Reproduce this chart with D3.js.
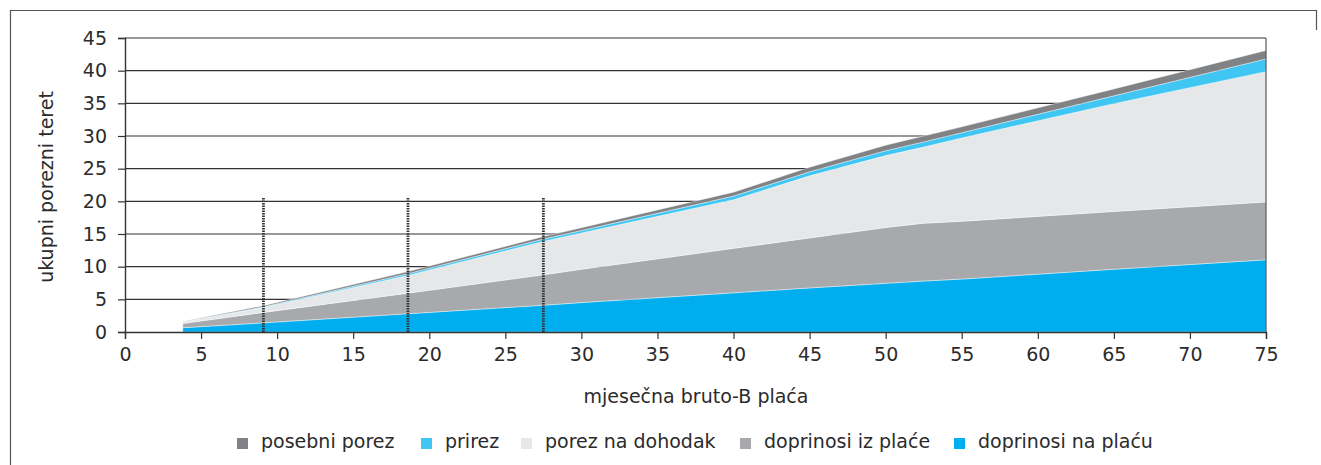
<!DOCTYPE html>
<html>
<head>
<meta charset="utf-8">
<script src="https://cdn.jsdelivr.net/npm/d3@7"></script>
<style>
  body { margin: 0; background: #fff; }
  svg text { font-family: "DejaVu Sans", sans-serif; fill: #2b2b2b; }
</style>
</head>
<body>
<svg id="chart" width="1321" height="465"></svg>
<script>
// monthly gross-B salary (thousand kn)
const placa = [3.8, 9.1, 18.6, 27.5, 30, 40, 45, 50, 52.5, 55, 65, 75];
// layer values (bottom to top)
const doprinosiNaPlacu = [0.65, 1.4, 2.8, 4.1, 4.5, 6.0, 6.75, 7.45, 7.8, 8.1, 9.6, 11.05];
const doprinosiIzPlace = [0.65, 1.6, 3.15, 4.65, 5.1, 6.8, 7.65, 8.55, 8.85, 8.85, 8.85, 8.85];
const porezNaDohodak = [0.22, 0.75, 2.71, 5.12, 5.55, 7.45, 9.5, 11.0, 11.65, 12.75, 16.5, 19.95];
const prirez = [0.04, 0.1, 0.27, 0.35, 0.38, 0.55, 0.62, 0.75, 0.8, 0.8, 1.2, 1.95];
const posebniPorez = [0.06, 0.18, 0.32, 0.38, 0.42, 0.6, 0.68, 0.85, 0.9, 0.9, 1.05, 1.3];

const markers = [9.1, 18.6, 27.5];
const markerTop = 20.5;

const xTicks = d3.range(0, 80, 5);
const yTicks = d3.range(0, 50, 5);

const series = [
    {key: "naPlacu", label: "doprinosi na plaću", color: "#00aeef", values: doprinosiNaPlacu},
    {key: "izPlace", label: "doprinosi iz plaće", color: "#a7a9ac", values: doprinosiIzPlace},
    {key: "porez", label: "porez na dohodak", color: "#e6e7e8", values: porezNaDohodak},
    {key: "prirez", label: "prirez", color: "#40c6f2", values: prirez},
    {key: "posebni", label: "posebni porez", color: "#808285", values: posebniPorez},
];

const svg = d3.select("#chart");
const plotLeft = 125, plotRight = 1266, plotTop = 38, plotBottom = 332;
const fontSize = "19px";

// outer frame
svg.append("path")
    .attr("d", "M10.5,465 V10.5 H1316.5 V30")
    .attr("fill", "none")
    .attr("stroke", "#555")
    .attr("stroke-width", 1.2);

const x = d3.scaleLinear().domain([0, 75]).range([plotLeft, plotRight]);
const y = d3.scaleLinear().domain([0, 45]).range([plotBottom, plotTop]);

// grid
svg.append("g")
    .selectAll("line")
    .data(yTicks.slice(1))
    .enter().append("line")
    .attr("x1", plotLeft).attr("x2", plotRight)
    .attr("y1", d => y(d)).attr("y2", d => y(d))
    .attr("stroke", "#333")
    .attr("stroke-width", 1.2);

// stacked areas
const rows = placa.map((p, i) => {
    const r = {x: p};
    series.forEach(s => r[s.key] = s.values[i]);
    return r;
});
const stacked = d3.stack().keys(series.map(s => s.key))(rows);
const area = d3.area()
    .x(d => x(d.data.x))
    .y0(d => y(d[0]))
    .y1(d => y(d[1]));

svg.append("g")
    .selectAll("path")
    .data(stacked)
    .enter().append("path")
    .attr("d", area)
    .attr("fill", (d, i) => series[i].color)
    .attr("stroke", "#fff")
    .attr("stroke-width", 0.4);

// dotted markers
svg.append("g")
    .selectAll("line")
    .data(markers)
    .enter().append("line")
    .attr("x1", d => x(d)).attr("x2", d => x(d))
    .attr("y1", y(0)).attr("y2", y(markerTop))
    .attr("stroke", "#333")
    .attr("stroke-width", 2.8)
    .attr("stroke-dasharray", "1.5,1");

// right border
svg.append("line")
    .attr("x1", plotRight).attr("x2", plotRight)
    .attr("y1", plotTop).attr("y2", plotBottom)
    .attr("stroke", "#555").attr("stroke-width", 1.2);

// axes
const xAxis = svg.append("g")
    .attr("transform", `translate(0,${plotBottom})`)
    .call(d3.axisBottom(x).tickValues(xTicks).tickSize(7).tickPadding(9));
const yAxis = svg.append("g")
    .attr("transform", `translate(${plotLeft},0)`)
    .call(d3.axisLeft(y).tickValues(yTicks).tickSize(7).tickPadding(11));

[xAxis, yAxis].forEach(a => {
    a.select(".domain").attr("stroke", "#333").attr("stroke-width", 1.4);
    a.selectAll(".tick line").attr("stroke", "#333").attr("stroke-width", 1.2);
    a.selectAll("text")
        .style("font-family", '"DejaVu Sans", sans-serif')
        .style("font-size", fontSize)
        .attr("fill", "#2b2b2b");
});

// axis titles
svg.append("text")
    .attr("x", 696)
    .attr("y", 403)
    .attr("text-anchor", "middle")
    .style("font-size", fontSize)
    .text("mjesečna bruto-B plaća");

svg.append("text")
    .attr("transform", "translate(53,187) rotate(-90)")
    .attr("text-anchor", "middle")
    .style("font-size", fontSize)
    .text("ukupni porezni teret");

// legend
const legendX = [237, 421, 521, 740, 954];
const legend = svg.append("g")
    .selectAll("g")
    .data(series.slice().reverse())
    .enter().append("g")
    .attr("transform", (d, i) => `translate(${legendX[i]},443.5)`);

legend.append("rect")
    .attr("width", 11).attr("height", 11)
    .attr("y", -5.5)
    .attr("fill", d => d.color);

legend.append("text")
    .attr("x", 24)
    .attr("y", 4.5)
    .style("font-size", fontSize)
    .text(d => d.label);
</script>
</body>
</html>
